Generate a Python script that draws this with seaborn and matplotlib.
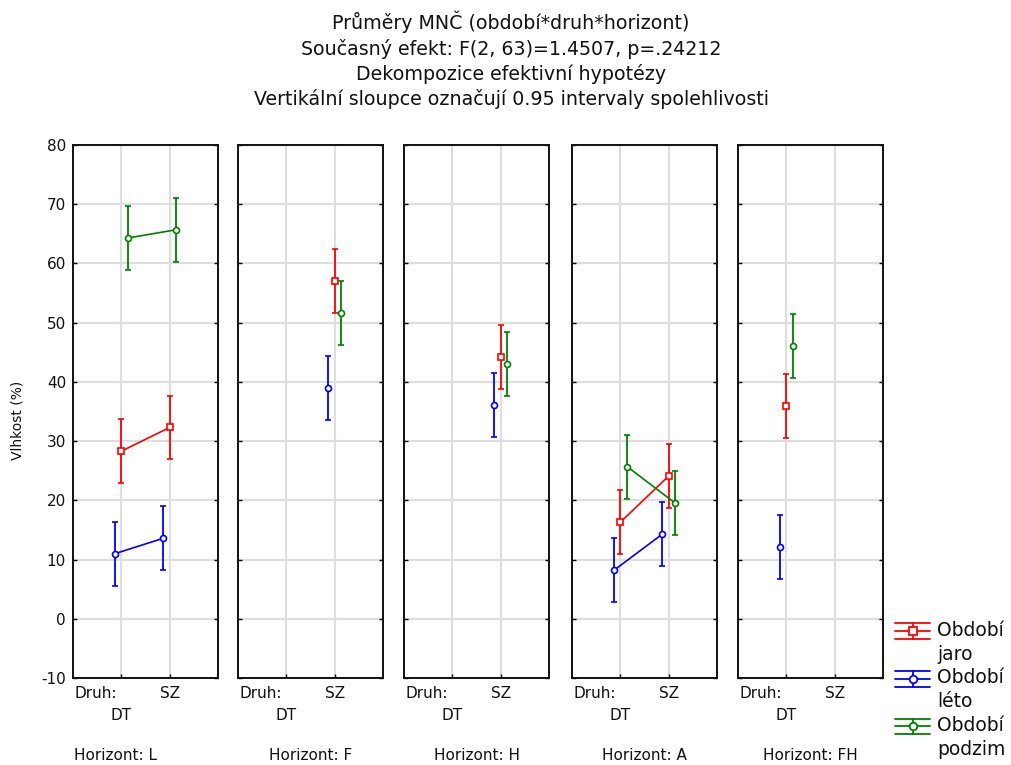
import numpy as np
import pandas as pd
import matplotlib
matplotlib.use("Agg")
import matplotlib.pyplot as plt
import seaborn as sns
from matplotlib.legend_handler import HandlerBase
from matplotlib.lines import Line2D

nan = np.nan

# Design: horizon x species (DT, SZ), three sampling seasons
horizons = ["L", "F", "H", "A", "FH"]
species = ["DT", "SZ"]
seasons = ["jaro", "léto", "podzim"]

# Least-squares means, ordered L-DT, L-SZ, F-DT, F-SZ, ... FH-SZ
jaro_mean = [28.3, 32.3, nan, 57.1, nan, 44.2, 16.3, 24.1, 35.9, nan]
leto_mean = [11.0, 13.6, nan, 38.9, nan, 36.1, 8.2, 14.3, 12.2, nan]
podzim_mean = [64.3, 65.7, nan, 51.7, nan, 43.1, 25.7, 19.5, 46.1, nan]

# Half-width of the 0.95 confidence intervals
jaro_ci = [5.4, 5.4, nan, 5.4, nan, 5.4, 5.4, 5.4, 5.4, nan]
leto_ci = [5.4, 5.4, nan, 5.4, nan, 5.4, 5.4, 5.4, 5.4, nan]
podzim_ci = [5.4, 5.4, nan, 5.4, nan, 5.4, 5.4, 5.4, 5.4, nan]

y_ticks = [-10, 0, 10, 20, 30, 40, 50, 60, 70, 80]

titles = [
    "Průměry MNČ (období*druh*horizont)",
    "Současný efekt: F(2, 63)=1.4507, p=.24212",
    "Dekompozice efektivní hypotézy",
    "Vertikální sloupce označují 0.95 intervaly spolehlivosti",
]

colors = {"jaro": "#ff0000", "léto": "#0000ff", "podzim": "#008000"}
markers = {"jaro": "s", "léto": "o", "podzim": "o"}
msizes = {"jaro": 5.0, "léto": 4.3, "podzim": 4.3}
offsets = {"jaro": 0.0, "léto": -0.13, "podzim": 0.14}

rows = []
for season, means, cis in [("jaro", jaro_mean, jaro_ci),
                           ("léto", leto_mean, leto_ci),
                           ("podzim", podzim_mean, podzim_ci)]:
    for i, (m, c) in enumerate(zip(means, cis)):
        rows.append({"horizont": horizons[i // 2], "druh": species[i % 2],
                     "obdobi": season, "mean": m, "ci": c})
df = pd.DataFrame(rows).dropna()
df["x"] = df["druh"].map({s: i for i, s in enumerate(species)}) + df["obdobi"].map(offsets)

sns.set_theme(style="whitegrid")
plt.rcParams["font.family"] = ["DejaVu Sans"]
TXT = "#111111"

W, H = 1011, 765
fig = plt.figure(figsize=(W / 100, H / 100), dpi=100)

panel_left = [73, 238, 404, 572, 738]
panel_w = 145
top_px, bot_px = 145, 678
label_x = [115, None, None, None, None]
FS = 11

for k, h in enumerate(horizons):
    ax = fig.add_axes([panel_left[k] / W, 1 - bot_px / H, panel_w / W, (bot_px - top_px) / H])
    sub = df[df["horizont"] == h]
    for season in seasons:
        s = sub[sub["obdobi"] == season]
        if len(s):
            _, caps, bars = ax.errorbar(s["x"], s["mean"], yerr=s["ci"], fmt="none",
                                        ecolor=colors[season], elinewidth=1.3,
                                        capsize=2.4, capthick=1.3, zorder=3)
            for c in caps:
                c.set_color(colors[season])
                c.set_markeredgecolor(colors[season])
    sns.lineplot(data=sub, x="x", y="mean", hue="obdobi", style="obdobi",
                 hue_order=seasons, style_order=seasons, palette=colors,
                 markers=markers, dashes=False, sort=True, estimator=None,
                 legend=False, ax=ax, lw=1.2, zorder=4)
    for ln in ax.lines:
        col = ln.get_color()
        season = next(s for s in seasons if matplotlib.colors.same_color(colors[s], col))
        ln.set_markerfacecolor("white")
        ln.set_markeredgecolor(col)
        ln.set_markeredgewidth(1.2)
        ln.set_markersize(msizes[season])

    ax.set_xlim(-1, 2)
    ax.set_ylim(-10, 80)
    ax.set_yticks(y_ticks)
    ax.set_xticks([0, 1])
    ax.set_xticklabels(["", "SZ"], fontsize=FS, color=TXT)
    ax.set_xlabel("")
    ax.set_ylabel("")
    ax.grid(True, color="#dedede", lw=1.5)
    ax.set_facecolor("white")
    for sp in ax.spines.values():
        sp.set_color("#111111")
        sp.set_linewidth(1.4)
    ax.tick_params(axis="both", direction="in", length=3, width=1, color="black",
                   left=True, right=True, bottom=True, top=False)
    ax.tick_params(axis="x", pad=5.5)
    if k == 0:
        ax.set_yticklabels([str(t) for t in y_ticks], fontsize=FS, color=TXT)
        ax.tick_params(axis="y", pad=5)
    else:
        ax.set_yticklabels([])
    ax.annotate("Druh:", xy=(0, 0), xycoords=("data", "axes fraction"),
                xytext=(-3, -5.5), textcoords="offset points",
                ha="right", va="top", fontsize=FS, color=TXT)
    ax.annotate("DT", xy=(0, 0), xycoords=("data", "axes fraction"),
                xytext=(0, -21.5), textcoords="offset points",
                ha="center", va="top", fontsize=FS, color=TXT)
    cx = 0.5 if label_x[k] is None else (label_x[k] - panel_left[k]) / panel_w
    ax.annotate(f"Horizont: {h}", xy=(cx, 0), xycoords="axes fraction",
                xytext=(0, -50.5), textcoords="offset points",
                ha="center", va="top", fontsize=FS, color=TXT)

fig.text(18 / W, 1 - 420 / H, "Vlhkost (%)", rotation=90, ha="center", va="center",
         fontsize=10, color=TXT)
fig.text(511 / W, 1 - 60 / H, "\n".join(titles), ha="center", va="center",
         fontsize=13.7, linespacing=1.34, color=TXT)

LEG_FS = 13.5
LEG_LS = 1.34


class HandlerCI(HandlerBase):
    def create_artists(self, legend, orig_handle, xdescent, ydescent, width, height,
                       fontsize, trans):
        color = orig_handle.get_color()
        x0 = -xdescent
        # symbol sits beside the first line of the two-line label
        yc = -ydescent + height / 2 + 0.5 * LEG_LS * 0.95 * fontsize
        hh = 0.42 * fontsize
        arts = [
            Line2D([x0, x0 + width], [yc, yc], color=color, lw=1.3),
            Line2D([x0, x0 + width], [yc + hh, yc + hh], color=color, lw=1.3),
            Line2D([x0, x0 + width], [yc - hh, yc - hh], color=color, lw=1.3),
            Line2D([x0 + width / 2] * 2, [yc - hh, yc + hh], color=color, lw=1.3),
            Line2D([x0 + width / 2], [yc], color=color, marker=orig_handle.get_marker(),
                   markersize=5.5, markerfacecolor="white", markeredgecolor=color,
                   markeredgewidth=1.3, lw=0),
        ]
        for a in arts:
            a.set_transform(trans)
        return arts


handles = [Line2D([], [], color=colors[s], marker=markers[s]) for s in seasons]
labels = [f"Období\n{s}" for s in seasons]
leg = fig.legend(handles, labels, handler_map={Line2D: HandlerCI()},
                 loc="lower left", bbox_to_anchor=(895 / W, 6 / H), frameon=False,
                 fontsize=LEG_FS, handlelength=1.87, handletextpad=0.37,
                 labelspacing=0.24, borderpad=0.0, borderaxespad=0.0)
for t in leg.get_texts():
    t.set_linespacing(LEG_LS)
    t.set_color(TXT)

fig.savefig("out.png", dpi=100, facecolor="white")
